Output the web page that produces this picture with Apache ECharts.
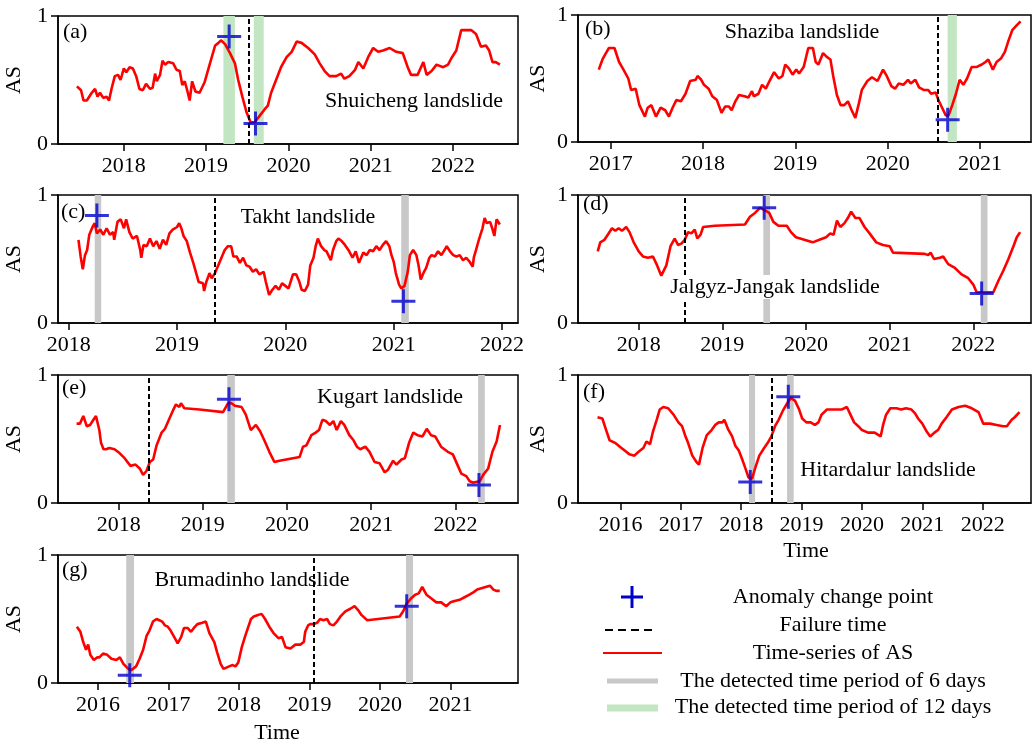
<!DOCTYPE html>
<html>
<head>
<meta charset="utf-8">
<script src="https://cdn.jsdelivr.net/npm/echarts@6/dist/echarts.min.js"></script>
<style>
html,body{margin:0;padding:0;background:#fff;}
#chart{width:1033px;height:748px;}
</style>
</head>
<body>
<div id="chart"></div>
<script>
// ---------------- DATA ----------------
const seriesA = [[2017.43,0.45],[2017.48,0.42],[2017.51,0.34],[2017.55,0.34],[2017.61,0.40],[2017.65,0.43],[2017.68,0.37],[2017.71,0.40],[2017.75,0.36],[2017.79,0.37],[2017.82,0.34],[2017.85,0.43],[2017.89,0.53],[2017.93,0.54],[2017.96,0.50],[2018.00,0.59],[2018.03,0.56],[2018.07,0.60],[2018.11,0.59],[2018.15,0.53],[2018.19,0.43],[2018.23,0.42],[2018.27,0.47],[2018.32,0.43],[2018.35,0.44],[2018.38,0.55],[2018.40,0.49],[2018.44,0.54],[2018.47,0.65],[2018.50,0.62],[2018.54,0.64],[2018.60,0.63],[2018.64,0.58],[2018.68,0.57],[2018.71,0.46],[2018.74,0.49],[2018.77,0.42],[2018.80,0.34],[2018.83,0.49],[2018.87,0.41],[2018.92,0.40],[2018.98,0.48],[2019.02,0.57],[2019.06,0.66],[2019.11,0.77],[2019.15,0.79],[2019.18,0.81],[2019.23,0.78],[2019.29,0.71],[2019.35,0.63],[2019.39,0.50],[2019.44,0.37],[2019.49,0.25],[2019.54,0.17],[2019.59,0.17],[2019.65,0.22],[2019.71,0.27],[2019.75,0.30],[2019.79,0.40],[2019.85,0.50],[2019.91,0.60],[2019.98,0.68],[2020.04,0.72],[2020.10,0.80],[2020.16,0.79],[2020.24,0.75],[2020.32,0.70],[2020.38,0.63],[2020.44,0.57],[2020.50,0.53],[2020.58,0.53],[2020.64,0.55],[2020.68,0.51],[2020.74,0.53],[2020.81,0.58],[2020.85,0.64],[2020.91,0.59],[2020.97,0.68],[2021.03,0.75],[2021.09,0.72],[2021.15,0.73],[2021.23,0.75],[2021.31,0.72],[2021.39,0.71],[2021.45,0.60],[2021.49,0.54],[2021.57,0.54],[2021.64,0.64],[2021.68,0.54],[2021.74,0.57],[2021.80,0.62],[2021.88,0.60],[2021.94,0.62],[2021.98,0.67],[2022.04,0.73],[2022.10,0.89],[2022.16,0.89],[2022.22,0.89],[2022.28,0.86],[2022.34,0.76],[2022.40,0.77],[2022.44,0.73],[2022.48,0.64],[2022.52,0.64],[2022.57,0.62]];

const seriesB = [[2016.87,0.57],[2016.91,0.65],[2016.94,0.69],[2016.98,0.74],[2017.04,0.74],[2017.09,0.63],[2017.13,0.58],[2017.19,0.50],[2017.22,0.41],[2017.27,0.42],[2017.31,0.29],[2017.37,0.20],[2017.40,0.27],[2017.44,0.29],[2017.49,0.20],[2017.54,0.27],[2017.59,0.25],[2017.63,0.20],[2017.67,0.27],[2017.71,0.33],[2017.76,0.32],[2017.81,0.38],[2017.86,0.48],[2017.92,0.49],[2017.94,0.52],[2017.98,0.49],[2018.01,0.45],[2018.06,0.42],[2018.10,0.36],[2018.15,0.33],[2018.20,0.23],[2018.24,0.28],[2018.28,0.28],[2018.31,0.25],[2018.35,0.32],[2018.39,0.37],[2018.45,0.36],[2018.49,0.35],[2018.53,0.40],[2018.55,0.36],[2018.60,0.38],[2018.64,0.45],[2018.68,0.42],[2018.72,0.48],[2018.77,0.55],[2018.82,0.50],[2018.86,0.52],[2018.89,0.61],[2018.93,0.58],[2018.97,0.53],[2019.01,0.57],[2019.04,0.54],[2019.09,0.59],[2019.11,0.65],[2019.14,0.74],[2019.19,0.74],[2019.22,0.63],[2019.25,0.61],[2019.30,0.70],[2019.34,0.67],[2019.38,0.65],[2019.41,0.52],[2019.45,0.37],[2019.49,0.29],[2019.53,0.29],[2019.57,0.32],[2019.61,0.25],[2019.65,0.19],[2019.69,0.31],[2019.72,0.41],[2019.78,0.48],[2019.83,0.51],[2019.89,0.48],[2019.95,0.57],[2019.99,0.52],[2020.04,0.44],[2020.08,0.42],[2020.12,0.46],[2020.17,0.45],[2020.22,0.49],[2020.25,0.46],[2020.30,0.49],[2020.34,0.43],[2020.39,0.41],[2020.44,0.41],[2020.47,0.38],[2020.52,0.39],[2020.55,0.33],[2020.59,0.27],[2020.63,0.21],[2020.66,0.21],[2020.70,0.29],[2020.74,0.38],[2020.78,0.49],[2020.82,0.45],[2020.86,0.50],[2020.91,0.59],[2020.96,0.59],[2021.02,0.61],[2021.06,0.63],[2021.09,0.65],[2021.14,0.57],[2021.18,0.63],[2021.23,0.66],[2021.27,0.71],[2021.31,0.80],[2021.35,0.88],[2021.40,0.92],[2021.44,0.95]];

const seriesC = [[2018.09,0.65],[2018.11,0.52],[2018.13,0.42],[2018.15,0.53],[2018.17,0.57],[2018.19,0.69],[2018.22,0.75],[2018.24,0.78],[2018.26,0.70],[2018.29,0.73],[2018.32,0.69],[2018.35,0.74],[2018.38,0.69],[2018.41,0.71],[2018.42,0.65],[2018.45,0.79],[2018.48,0.81],[2018.51,0.74],[2018.53,0.81],[2018.56,0.71],[2018.59,0.66],[2018.63,0.68],[2018.66,0.57],[2018.67,0.51],[2018.69,0.61],[2018.72,0.60],[2018.75,0.66],[2018.78,0.60],[2018.81,0.64],[2018.84,0.58],[2018.87,0.65],[2018.90,0.61],[2018.93,0.70],[2018.96,0.73],[2019.00,0.75],[2019.02,0.78],[2019.04,0.74],[2019.06,0.68],[2019.09,0.64],[2019.12,0.55],[2019.15,0.47],[2019.18,0.38],[2019.20,0.32],[2019.24,0.31],[2019.25,0.25],[2019.27,0.32],[2019.30,0.39],[2019.32,0.35],[2019.35,0.39],[2019.38,0.45],[2019.41,0.51],[2019.44,0.57],[2019.47,0.60],[2019.50,0.60],[2019.52,0.52],[2019.55,0.52],[2019.58,0.47],[2019.61,0.51],[2019.64,0.45],[2019.67,0.44],[2019.70,0.40],[2019.73,0.42],[2019.76,0.38],[2019.80,0.40],[2019.82,0.32],[2019.85,0.22],[2019.88,0.26],[2019.91,0.29],[2019.94,0.26],[2019.97,0.31],[2020.00,0.29],[2020.03,0.27],[2020.07,0.38],[2020.10,0.38],[2020.13,0.32],[2020.15,0.26],[2020.18,0.25],[2020.21,0.30],[2020.23,0.45],[2020.26,0.51],[2020.28,0.60],[2020.30,0.66],[2020.33,0.60],[2020.36,0.57],[2020.38,0.56],[2020.42,0.49],[2020.44,0.57],[2020.47,0.64],[2020.49,0.66],[2020.52,0.64],[2020.55,0.61],[2020.59,0.56],[2020.62,0.51],[2020.65,0.56],[2020.68,0.47],[2020.72,0.55],[2020.75,0.53],[2020.78,0.57],[2020.81,0.56],[2020.84,0.60],[2020.87,0.57],[2020.90,0.61],[2020.93,0.64],[2020.96,0.60],[2020.98,0.53],[2021.00,0.48],[2021.02,0.39],[2021.05,0.30],[2021.07,0.27],[2021.10,0.29],[2021.13,0.40],[2021.15,0.53],[2021.18,0.57],[2021.21,0.53],[2021.23,0.45],[2021.25,0.34],[2021.28,0.40],[2021.30,0.43],[2021.33,0.51],[2021.35,0.53],[2021.38,0.52],[2021.41,0.56],[2021.44,0.53],[2021.47,0.57],[2021.49,0.60],[2021.52,0.56],[2021.55,0.53],[2021.58,0.52],[2021.61,0.53],[2021.64,0.49],[2021.67,0.51],[2021.70,0.48],[2021.73,0.44],[2021.74,0.51],[2021.76,0.57],[2021.79,0.66],[2021.82,0.74],[2021.84,0.82],[2021.86,0.78],[2021.89,0.79],[2021.91,0.74],[2021.93,0.68],[2021.95,0.81],[2021.98,0.77]];

const seriesD = [[2017.51,0.56],[2017.54,0.63],[2017.59,0.65],[2017.63,0.69],[2017.68,0.74],[2017.72,0.72],[2017.76,0.74],[2017.80,0.72],[2017.85,0.75],[2017.89,0.71],[2017.94,0.63],[2018.00,0.56],[2018.05,0.52],[2018.11,0.51],[2018.17,0.52],[2018.22,0.45],[2018.27,0.37],[2018.33,0.45],[2018.38,0.60],[2018.43,0.66],[2018.47,0.61],[2018.51,0.62],[2018.55,0.65],[2018.59,0.71],[2018.63,0.70],[2018.67,0.73],[2018.70,0.66],[2018.74,0.69],[2018.77,0.75],[2018.91,0.76],[2019.27,0.77],[2019.33,0.83],[2019.39,0.86],[2019.45,0.90],[2019.51,0.88],[2019.56,0.86],[2019.61,0.79],[2019.67,0.76],[2019.77,0.76],[2019.82,0.71],[2019.88,0.67],[2019.98,0.65],[2020.08,0.63],[2020.16,0.65],[2020.24,0.67],[2020.29,0.70],[2020.33,0.69],[2020.37,0.80],[2020.41,0.75],[2020.46,0.78],[2020.50,0.82],[2020.54,0.87],[2020.59,0.82],[2020.64,0.82],[2020.70,0.75],[2020.76,0.70],[2020.84,0.63],[2020.92,0.61],[2021.00,0.60],[2021.04,0.55],[2021.42,0.54],[2021.46,0.53],[2021.49,0.55],[2021.53,0.50],[2021.60,0.51],[2021.64,0.52],[2021.70,0.46],[2021.78,0.43],[2021.86,0.38],[2021.94,0.35],[2022.00,0.30],[2022.04,0.24],[2022.10,0.24],[2022.24,0.24],[2022.30,0.33],[2022.36,0.41],[2022.42,0.50],[2022.48,0.60],[2022.52,0.67],[2022.56,0.71]];

const seriesE = [[2017.50,0.62],[2017.54,0.62],[2017.58,0.68],[2017.62,0.60],[2017.66,0.61],[2017.70,0.65],[2017.73,0.68],[2017.77,0.57],[2017.79,0.47],[2017.82,0.42],[2017.85,0.42],[2017.89,0.43],[2017.95,0.42],[2018.01,0.39],[2018.07,0.35],[2018.14,0.29],[2018.20,0.30],[2018.25,0.27],[2018.29,0.22],[2018.33,0.25],[2018.37,0.32],[2018.41,0.34],[2018.45,0.45],[2018.51,0.55],[2018.55,0.58],[2018.59,0.64],[2018.65,0.73],[2018.68,0.77],[2018.72,0.75],[2018.74,0.78],[2018.78,0.74],[2018.96,0.73],[2019.24,0.71],[2019.30,0.78],[2019.34,0.78],[2019.38,0.76],[2019.46,0.75],[2019.51,0.69],[2019.57,0.57],[2019.63,0.61],[2019.68,0.56],[2019.73,0.49],[2019.79,0.40],[2019.85,0.32],[2019.91,0.33],[2020.15,0.36],[2020.19,0.44],[2020.23,0.45],[2020.29,0.53],[2020.34,0.55],[2020.38,0.57],[2020.42,0.65],[2020.46,0.64],[2020.51,0.61],[2020.55,0.64],[2020.59,0.57],[2020.64,0.64],[2020.68,0.61],[2020.74,0.53],[2020.79,0.49],[2020.83,0.44],[2020.87,0.42],[2020.93,0.44],[2020.98,0.40],[2021.04,0.32],[2021.10,0.31],[2021.16,0.24],[2021.20,0.26],[2021.26,0.33],[2021.30,0.30],[2021.36,0.34],[2021.40,0.35],[2021.45,0.47],[2021.50,0.55],[2021.55,0.53],[2021.61,0.52],[2021.66,0.58],[2021.71,0.53],[2021.76,0.52],[2021.83,0.44],[2021.91,0.40],[2021.97,0.38],[2022.03,0.29],[2022.07,0.23],[2022.13,0.21],[2022.17,0.17],[2022.21,0.16],[2022.29,0.17],[2022.33,0.22],[2022.39,0.27],[2022.44,0.40],[2022.49,0.48],[2022.53,0.61]];

const seriesF = [[2015.62,0.67],[2015.70,0.66],[2015.77,0.56],[2015.82,0.49],[2015.91,0.47],[2015.99,0.44],[2016.07,0.41],[2016.15,0.38],[2016.23,0.37],[2016.30,0.40],[2016.38,0.43],[2016.43,0.48],[2016.49,0.46],[2016.54,0.56],[2016.60,0.65],[2016.65,0.73],[2016.71,0.75],[2016.79,0.74],[2016.88,0.69],[2016.96,0.63],[2017.02,0.60],[2017.07,0.53],[2017.12,0.47],[2017.19,0.37],[2017.26,0.32],[2017.30,0.30],[2017.36,0.43],[2017.43,0.53],[2017.51,0.57],[2017.57,0.61],[2017.63,0.63],[2017.69,0.63],[2017.72,0.65],[2017.78,0.58],[2017.85,0.52],[2017.90,0.45],[2017.96,0.41],[2018.01,0.35],[2018.07,0.27],[2018.12,0.20],[2018.18,0.19],[2018.23,0.27],[2018.30,0.37],[2018.38,0.43],[2018.44,0.47],[2018.50,0.52],[2018.56,0.60],[2018.62,0.65],[2018.70,0.73],[2018.75,0.77],[2018.82,0.82],[2018.89,0.80],[2018.96,0.73],[2019.01,0.66],[2019.08,0.63],[2019.15,0.63],[2019.22,0.61],[2019.28,0.63],[2019.33,0.69],[2019.42,0.73],[2019.50,0.73],[2019.58,0.73],[2019.66,0.73],[2019.75,0.75],[2019.80,0.70],[2019.87,0.63],[2019.94,0.60],[2020.00,0.57],[2020.10,0.55],[2020.21,0.55],[2020.31,0.52],[2020.35,0.61],[2020.40,0.69],[2020.47,0.74],[2020.57,0.74],[2020.65,0.73],[2020.73,0.74],[2020.82,0.73],[2020.88,0.70],[2020.93,0.66],[2021.00,0.62],[2021.07,0.56],[2021.13,0.52],[2021.20,0.55],[2021.26,0.57],[2021.32,0.62],[2021.40,0.67],[2021.49,0.73],[2021.60,0.75],[2021.71,0.76],[2021.82,0.74],[2021.93,0.71],[2022.01,0.62],[2022.12,0.62],[2022.23,0.61],[2022.34,0.60],[2022.40,0.60],[2022.48,0.65],[2022.53,0.67],[2022.61,0.71]];

const seriesG = [[2015.70,0.44],[2015.75,0.40],[2015.79,0.32],[2015.83,0.26],[2015.86,0.30],[2015.89,0.22],[2015.94,0.18],[2015.99,0.20],[2016.02,0.20],[2016.07,0.23],[2016.13,0.22],[2016.19,0.19],[2016.26,0.18],[2016.31,0.20],[2016.36,0.15],[2016.43,0.11],[2016.47,0.10],[2016.54,0.13],[2016.59,0.19],[2016.64,0.26],[2016.69,0.37],[2016.73,0.41],[2016.78,0.48],[2016.83,0.50],[2016.87,0.49],[2016.91,0.48],[2016.95,0.45],[2016.99,0.44],[2017.03,0.41],[2017.08,0.36],[2017.13,0.31],[2017.18,0.36],[2017.22,0.43],[2017.27,0.43],[2017.32,0.40],[2017.36,0.43],[2017.41,0.46],[2017.48,0.47],[2017.53,0.48],[2017.58,0.39],[2017.65,0.32],[2017.69,0.24],[2017.74,0.15],[2017.78,0.11],[2017.86,0.13],[2017.91,0.14],[2017.95,0.13],[2017.99,0.16],[2018.04,0.28],[2018.09,0.37],[2018.17,0.50],[2018.21,0.52],[2018.26,0.53],[2018.32,0.54],[2018.37,0.50],[2018.43,0.44],[2018.49,0.39],[2018.56,0.35],[2018.61,0.36],[2018.66,0.28],[2018.73,0.27],[2018.80,0.30],[2018.87,0.30],[2018.92,0.32],[2018.94,0.40],[2018.98,0.45],[2019.01,0.46],[2019.06,0.46],[2019.11,0.47],[2019.15,0.50],[2019.20,0.49],[2019.25,0.50],[2019.29,0.46],[2019.34,0.45],[2019.39,0.48],[2019.44,0.52],[2019.51,0.56],[2019.58,0.58],[2019.64,0.60],[2019.69,0.57],[2019.74,0.53],[2019.82,0.49],[2020.28,0.52],[2020.33,0.56],[2020.38,0.62],[2020.44,0.66],[2020.50,0.69],[2020.55,0.70],[2020.60,0.75],[2020.66,0.69],[2020.73,0.66],[2020.80,0.63],[2020.87,0.63],[2020.94,0.60],[2021.00,0.63],[2021.06,0.64],[2021.13,0.65],[2021.20,0.67],[2021.27,0.69],[2021.33,0.71],[2021.38,0.73],[2021.44,0.74],[2021.50,0.75],[2021.56,0.76],[2021.61,0.73],[2021.65,0.72],[2021.70,0.72]];

// anomaly change points [time, AS]
const changeA = [[2019.28,0.84],[2019.60,0.16]];
const changeB = [[2020.65,0.175]];
const changeC = [[2018.26,0.84],[2021.09,0.17]];
const changeD = [[2019.50,0.90],[2022.10,0.23]];
const changeE = [[2019.31,0.81],[2022.28,0.14]];
const changeF = [[2018.15,0.165],[2018.78,0.83]];
const changeG = [[2016.45,0.06],[2020.38,0.60]];

// failure times
const failureTimes = [2019.52, 2020.54, 2019.35, 2018.55, 2018.36, 2018.51, 2019.06];

// detected periods [start, end]
const period6 = [[], [], [[2018.24,2018.30],[2021.07,2021.14]], [[2019.49,2019.57],[2022.09,2022.17]], [[2019.29,2019.38],[2022.27,2022.35]], [[2018.13,2018.23],[2018.76,2018.87]], [[2016.40,2016.51],[2020.37,2020.47]]];
const period12 = [[[2019.21,2019.35],[2019.58,2019.70]], [[2020.65,2020.75]], [], [], [], [], []];

// axis ranges and ticks
const xRanges = [[2017.20,2022.79],[2016.645,2021.553],[2017.901,2022.148],[2017.274,2022.69],[2017.279,2022.744],[2015.297,2022.80],[2015.432,2021.959]];
const xTicks = [[2018,2019,2020,2021,2022],[2017,2018,2019,2020,2021],[2018,2019,2020,2021,2022],[2018,2019,2020,2021,2022],[2018,2019,2020,2021,2022],[2016,2017,2018,2019,2020,2021,2022],[2016,2017,2018,2019,2020,2021]];
const panelLetters = ['(a)','(b)','(c)','(d)','(e)','(f)','(g)'];
const landslideNames = ['Shuicheng landslide','Shaziba landslide','Takht landslide','Jalgyz-Jangak landslide','Kugart landslide','Hitardalur landslide','Brumadinho landslide'];
const legendLabels = ['Anomaly change point','Failure time','Time-series of AS','The detected time period of 6 days','The detected time period of 12 days'];

// ---------------- LAYOUT ----------------
const FONT = '"Liberation Serif", "Times New Roman", "DejaVu Serif", serif';
const series = [seriesA, seriesB, seriesC, seriesD, seriesE, seriesF, seriesG];
const changes = [changeA, changeB, changeC, changeD, changeE, changeF, changeG];
const grids = [
  {left:58, top:16, width:460, height:128},
  {left:578, top:15, width:453, height:127},
  {left:58, top:195, width:460, height:128},
  {left:578, top:195, width:453, height:128},
  {left:58, top:375, width:460, height:128},
  {left:578, top:375, width:453, height:128},
  {left:58, top:555, width:460, height:128}
];
const letterPos = [[63,32],[585,29],[61,212],[583,204],[62,388],[583,392],[62,570]];
const namePos = [[414,101],[802,32],[308,217],[775,287],[390,397],[888,470],[252,580]];
const nameGaps = [33,29,33,29,33,29,33];
const RED = '#ff0000', BLUE = '#0000cd', GRAY = '#c8c8c8', GREEN = '#c2e6c2';
const PLUS = 'path://M10.5,0 L13.5,0 L13.5,10.5 L24,10.5 L24,13.5 L13.5,13.5 L13.5,24 L10.5,24 L10.5,13.5 L0,13.5 L0,10.5 L10.5,10.5 Z';
const TXT = '22px ' + FONT;

const gridOpts = [], xAxes = [], yAxes = [], allSeries = [], graphics = [];

function bandSeries(i, data, color) {
  return {
    type: 'custom', xAxisIndex: i, yAxisIndex: i, z: 1, silent: true,
    data: data,
    renderItem: function (params, api) {
      const p0 = api.coord([api.value(0), 1]);
      const p1 = api.coord([api.value(1), 0]);
      return {type: 'rect', shape: {x: p0[0], y: p0[1], width: p1[0] - p0[0], height: p1[1] - p0[1]}, style: {fill: color}};
    }
  };
}

for (let i = 0; i < 7; i++) {
  gridOpts.push(Object.assign({show: true, borderColor: '#000', borderWidth: 1.5, backgroundColor: 'transparent'}, grids[i]));
  xAxes.push({
    type: 'value', gridIndex: i, min: xRanges[i][0], max: xRanges[i][1],
    axisLine: {show: true, onZero: false, lineStyle: {color: '#000', width: 1.5}},
    axisTick: {show: true, customValues: xTicks[i], length: 7, lineStyle: {color: '#000', width: 1.5}},
    axisLabel: {show: true, customValues: xTicks[i], formatter: function (v) { return String(v); }, color: '#000', fontFamily: FONT, fontSize: 22, margin: 11},
    splitLine: {show: false}
  });
  yAxes.push({
    type: 'value', gridIndex: i, min: 0, max: 1, interval: 1,
    axisLine: {show: true, lineStyle: {color: '#000', width: 1.5}},
    axisTick: {show: true, length: 7, lineStyle: {color: '#000', width: 1.5}},
    axisLabel: {color: '#000', fontFamily: FONT, fontSize: 22, margin: 10},
    splitLine: {show: false},
    name: 'AS', nameLocation: 'middle', nameGap: nameGaps[i], nameRotate: 90,
    nameTextStyle: {color: '#000', fontFamily: FONT, fontSize: 22}
  });
  if (period6[i].length) allSeries.push(bandSeries(i, period6[i], GRAY));
  if (period12[i].length) allSeries.push(bandSeries(i, period12[i], GREEN));
  allSeries.push({
    type: 'line', xAxisIndex: i, yAxisIndex: i, z: 3, data: series[i],
    showSymbol: false, symbol: 'none', smooth: false,
    lineStyle: {color: RED, width: 2.6}, silent: true,
    markLine: {
      silent: true, symbol: 'none', label: {show: false},
      lineStyle: {color: '#000', width: 2, type: [5, 3]},
      data: [{xAxis: failureTimes[i]}]
    }
  });
  allSeries.push({
    type: 'scatter', xAxisIndex: i, yAxisIndex: i, z: 6, data: changes[i],
    symbol: PLUS, symbolSize: 24, itemStyle: {color: BLUE}, silent: true
  });
  graphics.push({type: 'text', z: 20, x: letterPos[i][0], y: letterPos[i][1],
    style: {text: panelLetters[i], font: TXT, fill: '#000', align: 'left', verticalAlign: 'middle'}});
  graphics.push({type: 'text', z: 20, x: namePos[i][0], y: namePos[i][1],
    style: {text: landslideNames[i], font: TXT, fill: '#000', align: 'center', verticalAlign: 'middle',
      backgroundColor: i === 3 ? '#fff' : 'transparent', padding: [1, 3]}});
}

// x-axis titles
graphics.push({type: 'text', z: 20, x: 806, y: 551, style: {text: 'Time', font: TXT, fill: '#000', align: 'center', verticalAlign: 'middle'}});
graphics.push({type: 'text', z: 20, x: 277, y: 733, style: {text: 'Time', font: TXT, fill: '#000', align: 'center', verticalAlign: 'middle'}});

// legend (drawn as graphics)
const legY = [597, 625, 653, 681, 707];
graphics.push({type: 'line', z: 20, shape: {x1: 621, y1: 597, x2: 643, y2: 597}, style: {stroke: BLUE, lineWidth: 3}});
graphics.push({type: 'line', z: 20, shape: {x1: 632, y1: 586, x2: 632, y2: 608}, style: {stroke: BLUE, lineWidth: 3}});
graphics.push({type: 'line', z: 20, shape: {x1: 605, y1: 630, x2: 657, y2: 630}, style: {stroke: '#000', lineWidth: 2, lineDash: [8, 5]}});
graphics.push({type: 'line', z: 20, shape: {x1: 603, y1: 653, x2: 662, y2: 653}, style: {stroke: RED, lineWidth: 2}});
graphics.push({type: 'line', z: 20, shape: {x1: 607, y1: 681, x2: 658, y2: 681}, style: {stroke: GRAY, lineWidth: 5}});
graphics.push({type: 'line', z: 20, shape: {x1: 607, y1: 708, x2: 658, y2: 708}, style: {stroke: GREEN, lineWidth: 7}});
for (let k = 0; k < legendLabels.length; k++) {
  graphics.push({type: 'text', z: 20, x: 833, y: legY[k], style: {text: legendLabels[k], font: TXT, fill: '#000', align: 'center', verticalAlign: 'middle'}});
}

const chart = echarts.init(document.getElementById('chart'), null, {renderer: 'canvas'});
chart.setOption({
  animation: false,
  backgroundColor: '#fff',
  textStyle: {fontFamily: FONT},
  grid: gridOpts,
  xAxis: xAxes,
  yAxis: yAxes,
  series: allSeries,
  graphic: graphics
});
</script>
</body>
</html>
